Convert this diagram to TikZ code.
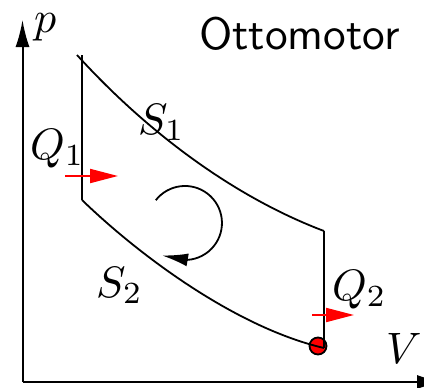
\documentclass[tikz,border=0pt]{standalone}
\usetikzlibrary{arrows.meta}
\begin{document}
\begin{tikzpicture}[x=1pt,y=-1pt,
  curve/.style={line width=1.8pt},
  axis/.style={line width=2pt, -{Latex[length=27pt,width=14pt]}},
  heat/.style={red, line width=2pt, -{Triangle[length=28pt,width=14pt]}},
  turn/.style={line width=1.8pt, -{Latex[length=26pt,width=13pt]}},
  lab/.style={anchor=base west, inner sep=0pt},
  dotstyle/.style={circle, draw=black, fill=red, line width=1.8pt, minimum size=17pt, inner sep=0pt}]
\useasboundingbox (0,0) rectangle (424,388);
% axes
\coordinate (O) at (22.5,382);
\coordinate (ptop) at (22.5,20);
\coordinate (vend) at (444,382);
\draw[axis] (O) -- (ptop);
\draw[axis] (O) -- (vend);
% state point
\node[dotstyle] (dot) at (318,346) {};
% cycle
\coordinate (A) at (77,55);
\coordinate (B) at (324,231);
\coordinate (C) at (324,348);
\coordinate (D) at (82,200);
\coordinate (E) at (82,55);
\draw[curve] (A) .. controls (147,132) and (234,197) .. (B);
\draw[curve] (B) -- (C);
\draw[curve] (D) .. controls (142,258) and (238,328) .. (C);
\draw[curve] (E) -- (D);
% heat arrows
\coordinate (q1a) at (65,176);
\coordinate (q1b) at (118,176);
\coordinate (q2a) at (312,315);
\coordinate (q2b) at (354,315);
\draw[heat] (q1a) -- (q1b);
\draw[heat] (q2a) -- (q2b);
% rotation arrow
\coordinate (r0) at (155.8,200.2);
\coordinate (rtip) at (162,255.5);
\draw[turn] (r0) arc[start angle=-142, end angle=86, radius=37] -- (rtip);
% labels
\node[lab] (lp) at (34,33) {\scalebox{4.4}{$p$}};
\node[lab] (lV) at (386,363) {\scalebox{4.4}{$V$}};
\node[lab] (lQ1) at (30,159) {\scalebox{4.4}{$Q_1$}};
\node[lab] (lQ2) at (332,300) {\scalebox{4.4}{$Q_2$}};
\node[lab] (lS1) at (138,134) {\scalebox{4.4}{$S_1$}};
\node[lab] (lS2) at (96,297) {\scalebox{4.4}{$S_2$}};
\node[lab] (title) at (199,49) {\scalebox{4.53}{\sffamily Ottomotor}};
\end{tikzpicture}
\end{document}
